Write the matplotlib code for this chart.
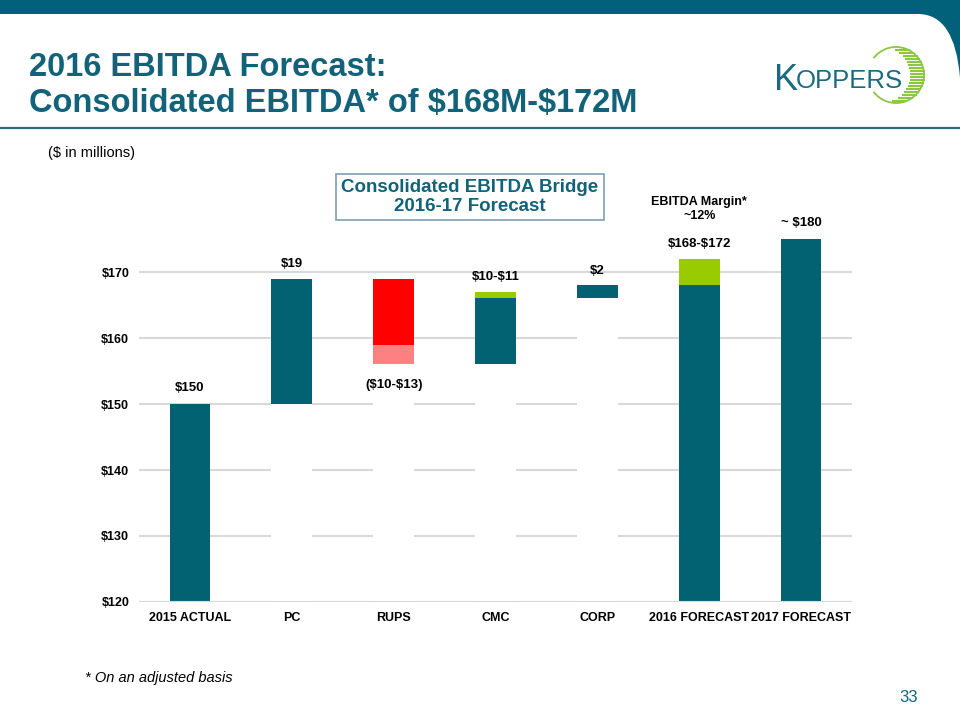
import matplotlib
matplotlib.use("Agg")
import matplotlib.pyplot as plt
from matplotlib.path import Path
from matplotlib.patches import PathPatch, Arc
import numpy as np

plt.rcParams['font.family'] = ['Liberation Sans', 'DejaVu Sans']
plt.rcParams['text.parse_math'] = False

# ---------------- data ----------------
categories = ['2015 ACTUAL', 'PC', 'RUPS', 'CMC', 'CORP', '2016 FORECAST', '2017 FORECAST']
bar_bottoms = [120, 150, 156, 156, 166, 120, 120]      # bottom of visible stack
lower_seg = [30, 19, 3, 10, 2, 48, 55]                  # lower segment heights
upper_seg = [0, 0, 10, 1, 0, 4, 0]                      # upper segment heights
lower_colors = ['#036272', '#036272', '#FF8080', '#036272', '#036272', '#036272', '#036272']
upper_colors = ['#036272', '#036272', '#FF0000', '#99CC00', '#036272', '#99CC00', '#036272']
bar_labels = ['$150', '$19', '($10-$13)', '$10-$11', '$2', '$168-$172', '~ $180']
label_offsets = [11.5, 10.5, -15, 10.5, 10.5, 10.5, 11.5]
y_ticks = [120, 130, 140, 150, 160, 170]
y_tick_labels = ['$120', '$130', '$140', '$150', '$160', '$170']

TEAL = '#036272'
TITLE = '#12637A'
W, H = 960, 720

fig = plt.figure(figsize=(9.6, 7.2), dpi=100)

def fx(x):
    return x / W

def fy(y):
    return 1 - y / H

# ---------------- header band ----------------
verts = [(fx(0), fy(0)), (fx(960), fy(0)), (fx(960), fy(78)),
         (fx(955), fy(14)), (fx(918), fy(14)), (fx(0), fy(14)), (fx(0), fy(0))]
codes = [Path.MOVETO, Path.LINETO, Path.LINETO, Path.CURVE3, Path.CURVE3,
         Path.LINETO, Path.CLOSEPOLY]
fig.patches.append(PathPatch(Path(verts, codes), transform=fig.transFigure,
                             facecolor='#02617A', edgecolor='none', zorder=0))
fig.add_artist(plt.Line2D([0, 1], [fy(128), fy(128)], transform=fig.transFigure,
                          color='#2F6B7E', lw=1.6))

# title
fig.text(fx(29), fy(76), '2016 EBITDA Forecast:', fontsize=23.5, fontweight='bold',
         color=TITLE, ha='left', va='baseline')
fig.text(fx(29), fy(112), 'Consolidated EBITDA* of $168M-$172M', fontsize=23.5,
         fontweight='bold', color=TITLE, ha='left', va='baseline')

# logo
fig.text(fx(774), fy(90), 'K', fontsize=26, color='#1A6A80', ha='left', va='baseline')
fig.text(fx(796), fy(88), 'OPPERS', fontsize=18.5, color='#1A6A80', ha='left', va='baseline')
cx, cy, r_out = 896, 75, 28
cx_in, r_in = 883, 28
fig.add_artist(Arc((fx(cx), fy(cy)), 2 * r_out / W, 2 * r_out / H, theta1=-135,
                   theta2=135, transform=fig.transFigure, color='#8DC63F', lw=1.3))
for yy in np.arange(50, 102, 3.0):
    dy = yy - cy
    if abs(dy) >= r_out:
        continue
    x_out = cx + np.sqrt(r_out ** 2 - dy ** 2)
    x_in = cx_in + np.sqrt(max(r_in ** 2 - dy ** 2, 0))
    if x_out - x_in < 1.5:
        continue
    fig.add_artist(plt.Line2D([fx(x_in), fx(x_out)], [fy(yy), fy(yy)],
                              transform=fig.transFigure, color='#8DC63F', lw=1.5))

fig.text(fx(48), fy(153), '($ in millions)', fontsize=10.5, color='black',
         ha='left', va='center')

# ---------------- chart ----------------
ax = fig.add_axes([fx(139), fy(602), (852 - 139) / W, 56 * 6.6 / H])
x = np.arange(len(categories))
width = 0.4
axis_min = 120

ax.set_ylim(120, 176)
ax.set_xlim(-0.5, len(categories) - 0.5)
ax.set_yticks(y_ticks)
ax.set_yticklabels(y_tick_labels)
ax.grid(axis='y', color='#D9D9D9', lw=1.5, zorder=0)
ax.set_axisbelow(True)
for s in ax.spines.values():
    s.set_visible(False)
ax.tick_params(length=0)
ax.tick_params(axis='y', pad=7)
ax.tick_params(axis='x', pad=7)
ax.set_xticks(x)
ax.set_xticklabels(categories)
for lab in ax.get_xticklabels() + ax.get_yticklabels():
    lab.set_fontweight('bold')
    lab.set_fontsize(9)

# white invisible base bars (cover gridlines)
base_heights = [b - axis_min for b in bar_bottoms]
ax.bar(x, base_heights, width, bottom=axis_min, color='white', zorder=1)
ax.bar(x, lower_seg, width, bottom=bar_bottoms, color=lower_colors, zorder=2)
upper_bottoms = [b + l for b, l in zip(bar_bottoms, lower_seg)]
ax.bar(x, upper_seg, width, bottom=upper_bottoms, color=upper_colors, zorder=2)
ax.axhline(120, color='#D9D9D9', lw=1.5, zorder=3)

tops = [b + l + u for b, l, u in zip(bar_bottoms, lower_seg, upper_seg)]
for i, lab in enumerate(bar_labels):
    anchor = bar_bottoms[i] if label_offsets[i] < 0 else tops[i]
    ax.annotate(lab, (x[i], anchor), xytext=(0, label_offsets[i]),
                textcoords='offset points', ha='center', va='center',
                fontsize=9.5, fontweight='bold')
ax.annotate('EBITDA Margin*\n~12%', (x[5], tops[5]), xytext=(0, 36),
            textcoords='offset points', ha='center', va='center',
            fontsize=9, fontweight='bold', linespacing=1.2)

# bridge title box
fig.text(fx(470), fy(197), 'Consolidated EBITDA Bridge\n2016-17 Forecast',
         fontsize=13.5, fontweight='bold', color=TITLE, ha='center', va='center',
         linespacing=1.1,
         bbox=dict(boxstyle='square,pad=0.3', facecolor='white',
                   edgecolor='#7F9DB9', lw=1.2))

fig.text(fx(85), fy(678), '* On an adjusted basis', fontsize=10.5, style='italic',
         color='black', ha='left', va='center')
fig.text(fx(918), fy(697), '33', fontsize=12, color=TITLE, ha='right', va='center')

fig.savefig('out.png', dpi=100)
